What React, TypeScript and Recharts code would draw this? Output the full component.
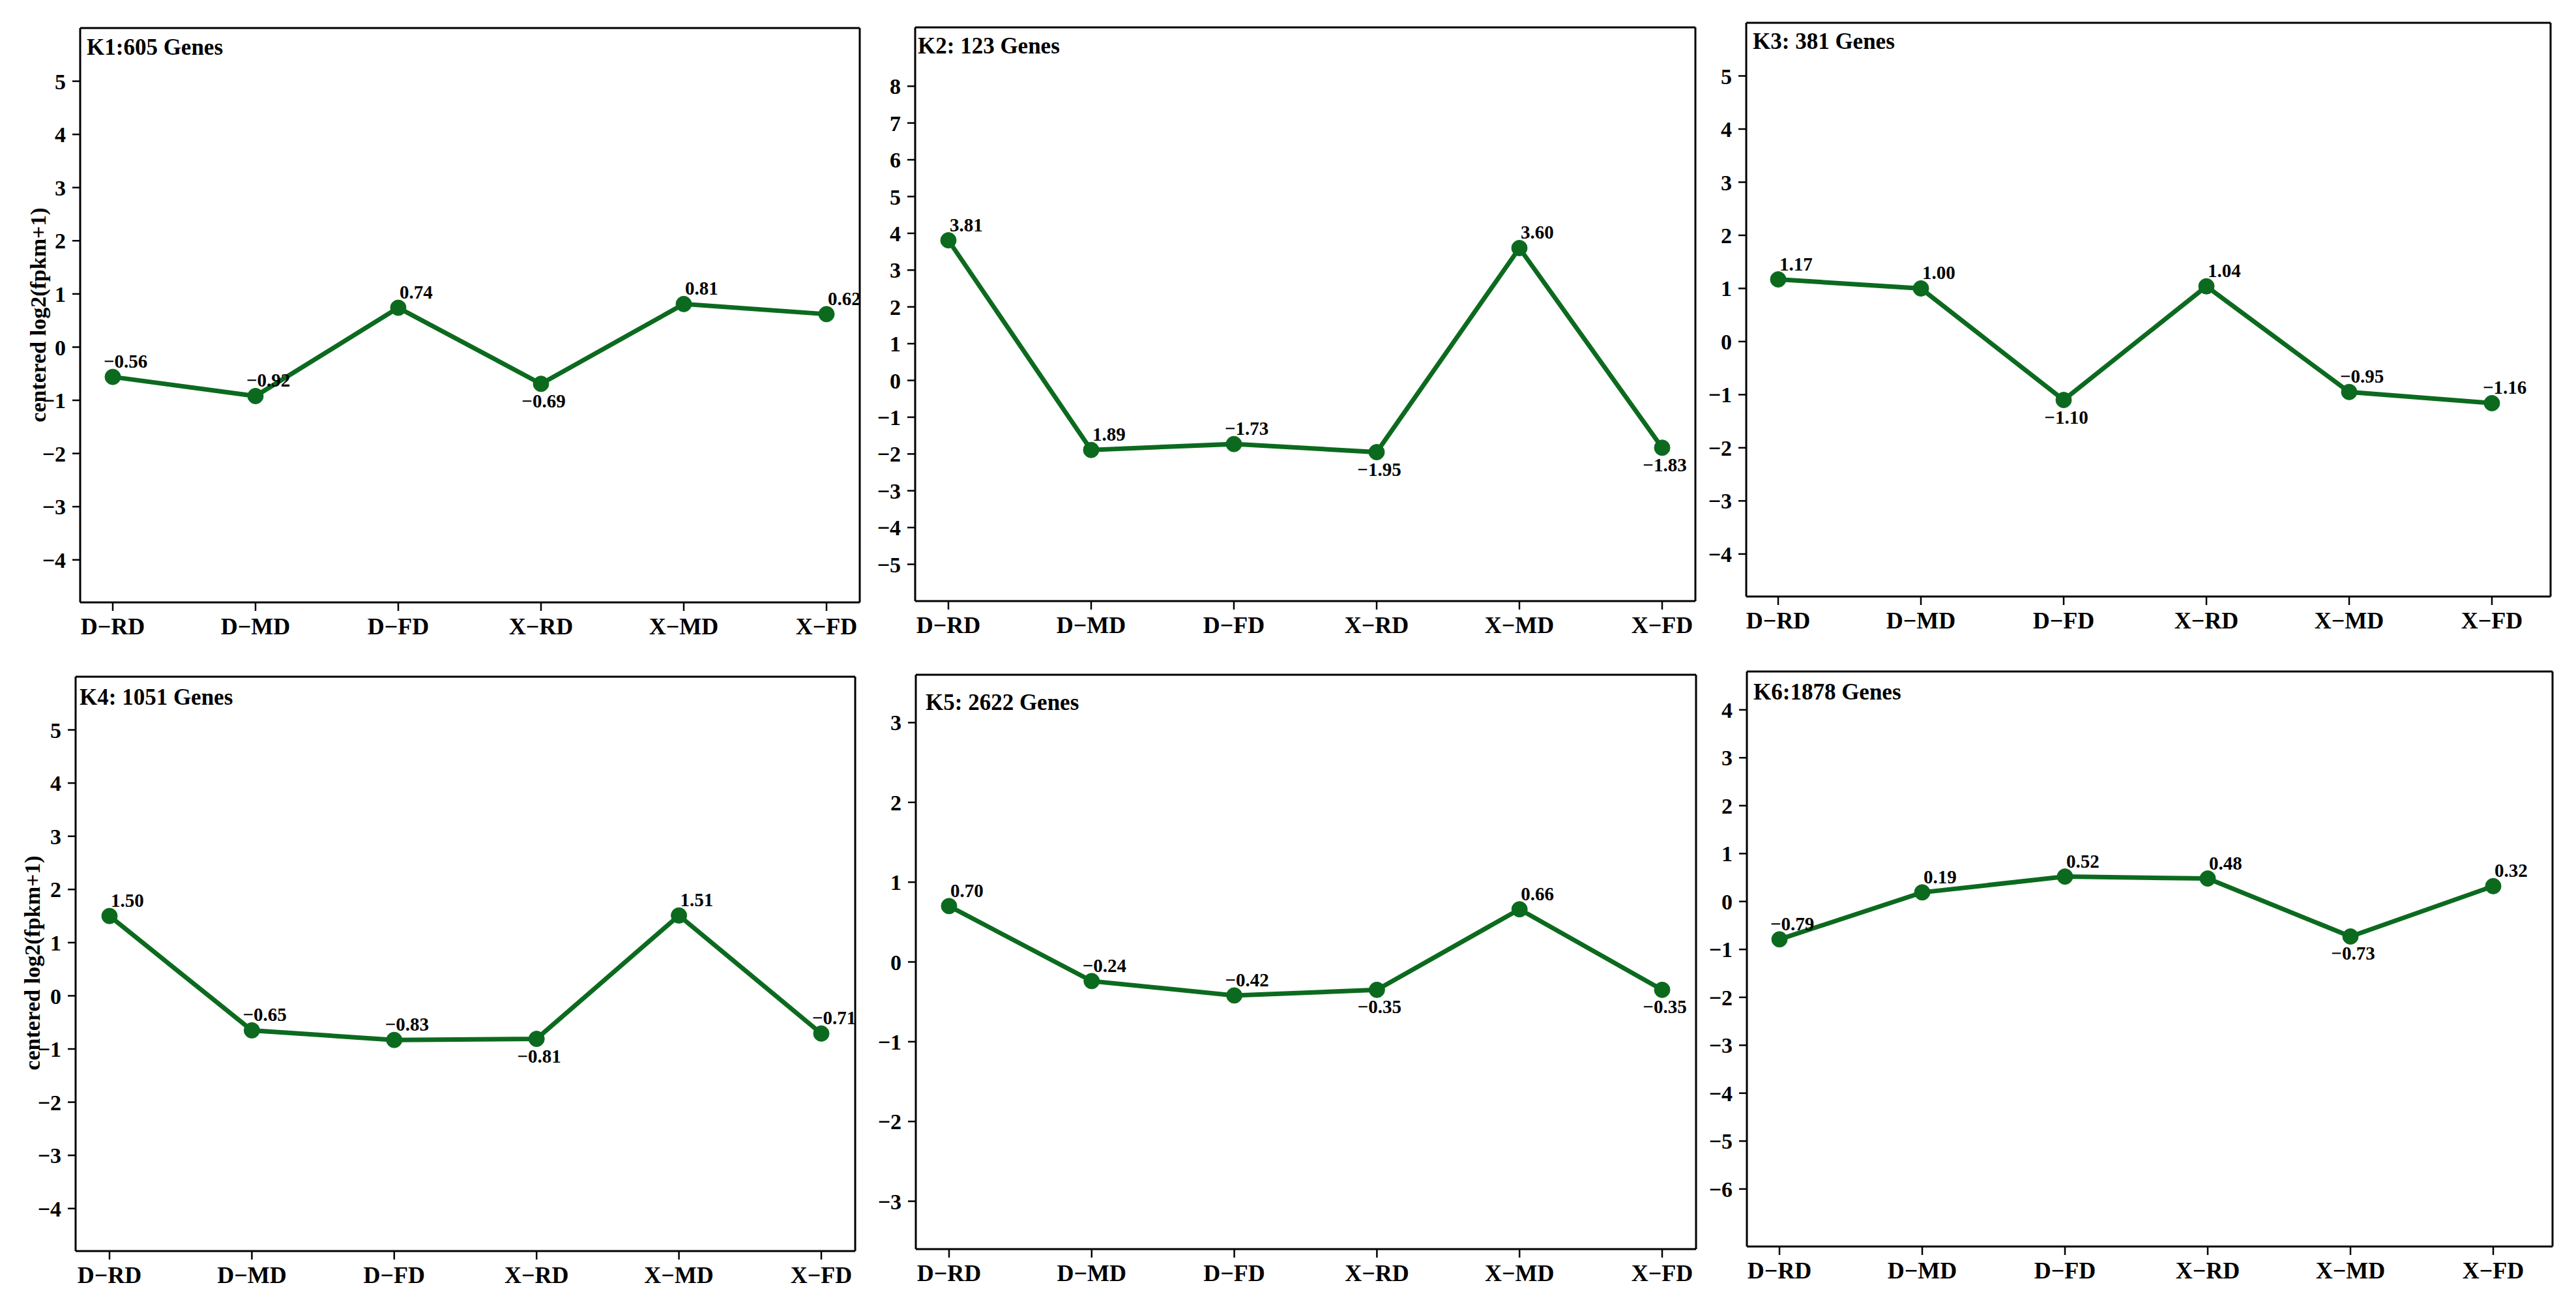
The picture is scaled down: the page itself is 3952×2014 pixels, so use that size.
import React from "react";
import { LineChart, Line, XAxis, YAxis, CartesianGrid } from "recharts";

const categories = ["D−RD", "D−MD", "D−FD", "X−RD", "X−MD", "X−FD"];

const k1Values = [-0.56, -0.92, 0.74, -0.69, 0.81, 0.62];
const k2Values = [3.81, -1.89, -1.73, -1.95, 3.6, -1.83];
const k3Values = [1.17, 1.0, -1.1, 1.04, -0.95, -1.16];
const k4Values = [1.5, -0.65, -0.83, -0.81, 1.51, -0.71];
const k5Values = [0.7, -0.24, -0.42, -0.35, 0.66, -0.35];
const k6Values = [-0.79, 0.19, 0.52, 0.48, -0.73, 0.32];

// labels as printed (K2 D-MD is printed without its minus sign)
const k1Labels = ["−0.56", "−0.92", "0.74", "−0.69", "0.81", "0.62"];
const k2Labels = ["3.81", "1.89", "−1.73", "−1.95", "3.60", "−1.83"];
const k3Labels = ["1.17", "1.00", "−1.10", "1.04", "−0.95", "−1.16"];
const k4Labels = ["1.50", "−0.65", "−0.83", "−0.81", "1.51", "−0.71"];
const k5Labels = ["0.70", "−0.24", "−0.42", "−0.35", "0.66", "−0.35"];
const k6Labels = ["−0.79", "0.19", "0.52", "0.48", "−0.73", "0.32"];

const ticksA = [-4, -3, -2, -1, 0, 1, 2, 3, 4, 5];
const ticksK2 = [-5, -4, -3, -2, -1, 0, 1, 2, 3, 4, 5, 6, 7, 8];
const ticksK5 = [-3, -2, -1, 0, 1, 2, 3];
const ticksK6 = [-6, -5, -4, -3, -2, -1, 0, 1, 2, 3, 4];

const GREEN = "#0c6a1f";
const FONT = '"Liberation Serif", "Times New Roman", serif';
const AXIS = { stroke: "#000", strokeWidth: 3 };

const buildRows = (values: number[]) =>
  categories.map((cat, i) => ({ cat, v: values[i] }));

const minus = (v: number) => String(v).replace("-", "−");

function Panel({ p }: { p: any }) {
  const yw = 130;
  const top = 10;
  const bottom = 80;
  const right = 10;
  const data = buildRows(p.values);

  const renderLabel = (props: any) => {
    const { x, y, index } = props;
    const text = p.labels[index];
    const below = p.place[index] === "b";
    const neg = text.startsWith("−");
    return (
      <text
        key={index}
        x={below ? x + 4 : x + (neg ? -14 : 2)}
        y={below ? y + 36 : y - 14}
        textAnchor={below ? "middle" : "start"}
        fontFamily={FONT}
        fontWeight="bold"
        fontSize={29}
        fill="#000"
      >
        {text}
      </text>
    );
  };

  return (
    <>
      <div
        style={{
          position: "absolute",
          left: p.frame.x - yw,
          top: p.frame.y - top,
        }}
      >
        <LineChart
          width={p.frame.w + yw + right}
          height={p.frame.h + top + bottom}
          data={data}
          margin={{ top, right, left: 0, bottom: 0 }}
        >
          {/* top and right edges of the frame */}
          <CartesianGrid
            stroke="#000"
            strokeWidth={3}
            horizontalCoordinatesGenerator={({ offset }: any) => [offset.top]}
            verticalCoordinatesGenerator={({ offset }: any) => [offset.left + offset.width]}
          />
          <XAxis
            dataKey="cat"
            height={bottom}
            padding={{ left: p.padL, right: p.padR }}
            axisLine={AXIS}
            tickLine={{ stroke: "#000", strokeWidth: 2.5 }}
            tickSize={13}
            tickMargin={10}
            interval={0}
            tick={{ fill: "#000", fontSize: 36, fontWeight: "bold", fontFamily: FONT }}
          />
          <YAxis
            width={yw}
            domain={p.domain}
            ticks={p.ticks}
            type="number"
            allowDataOverflow
            axisLine={AXIS}
            tickLine={{ stroke: "#000", strokeWidth: 2.5 }}
            tickSize={12}
            tickMargin={10}
            tickFormatter={minus}
            tick={{ fill: "#000", fontSize: 34, fontWeight: "bold", fontFamily: FONT }}
          />
          <Line
            dataKey="v"
            stroke={GREEN}
            strokeWidth={7}
            dot={{ r: 12, fill: GREEN, stroke: GREEN, strokeWidth: 1 }}
            activeDot={false}
            label={renderLabel}
            isAnimationActive={false}
          />
        </LineChart>
      </div>
      <div
        style={{
          position: "absolute",
          left: p.frame.x + p.titleDx,
          top: p.frame.y + p.titleDy - 32,
          fontFamily: FONT,
          fontWeight: "bold",
          fontSize: 35,
          lineHeight: "40px",
          whiteSpace: "nowrap",
          color: "#000",
        }}
      >
        {p.title}
      </div>
      {p.ytitle && (
        <div
          style={{
            position: "absolute",
            left: p.ytitle.x,
            top: p.ytitle.y,
            transform: "translate(-50%, -50%) rotate(-90deg)",
            fontFamily: FONT,
            fontWeight: "bold",
            fontSize: 34,
            whiteSpace: "nowrap",
            color: "#000",
          }}
        >
          centered log2(fpkm+1)
        </div>
      )}
    </>
  );
}

const panels = [
  {
    title: "K1:605 Genes",
    values: k1Values,
    labels: k1Labels,
    place: ["t", "t", "t", "b", "t", "t"],
    frame: { x: 123, y: 43, w: 1196, h: 881 },
    domain: [-4.8, 6.0],
    ticks: ticksA,
    padL: 50,
    padR: 51,
    titleDx: 10,
    titleDy: 42,
    ytitle: { x: 59, y: 483 },
  },
  {
    title: "K2: 123 Genes",
    values: k2Values,
    labels: k2Labels,
    place: ["t", "t", "t", "b", "t", "b"],
    frame: { x: 1404, y: 42, w: 1197, h: 880 },
    domain: [-6, 9.6],
    ticks: ticksK2,
    padL: 51,
    padR: 51,
    titleDx: 4,
    titleDy: 41,
  },
  {
    title: "K3: 381 Genes",
    values: k3Values,
    labels: k3Labels,
    place: ["t", "t", "b", "t", "t", "t"],
    frame: { x: 2679, y: 35, w: 1234, h: 880 },
    domain: [-4.8, 6.0],
    ticks: ticksA,
    padL: 49,
    padR: 90,
    titleDx: 10,
    titleDy: 41,
  },
  {
    title: "K4: 1051 Genes",
    values: k4Values,
    labels: k4Labels,
    place: ["t", "t", "t", "b", "t", "t"],
    frame: { x: 116, y: 1038, w: 1196, h: 881 },
    domain: [-4.8, 6.0],
    ticks: ticksA,
    padL: 52,
    padR: 52,
    titleDx: 6,
    titleDy: 44,
    ytitle: { x: 50, y: 1477 },
  },
  {
    title: "K5: 2622 Genes",
    values: k5Values,
    labels: k5Labels,
    place: ["t", "t", "t", "b", "t", "b"],
    frame: { x: 1405, y: 1035, w: 1197, h: 881 },
    domain: [-3.6, 3.6],
    ticks: ticksK5,
    padL: 51,
    padR: 52,
    titleDx: 15,
    titleDy: 55,
  },
  {
    title: "K6:1878 Genes",
    values: k6Values,
    labels: k6Labels,
    place: ["t", "t", "t", "t", "b", "t"],
    frame: { x: 2680, y: 1030, w: 1236, h: 882 },
    domain: [-7.2, 4.8],
    ticks: ticksK6,
    padL: 50,
    padR: 91,
    titleDx: 10,
    titleDy: 44,
  },
];

export default function App() {
  return (
    <div
      style={{
        position: "absolute",
        left: 0,
        top: 0,
        width: 3952,
        height: 2014,
        background: "#fff",
        overflow: "hidden",
      }}
    >
      {panels.map((p) => (
        <Panel key={p.title} p={p} />
      ))}
    </div>
  );
}
